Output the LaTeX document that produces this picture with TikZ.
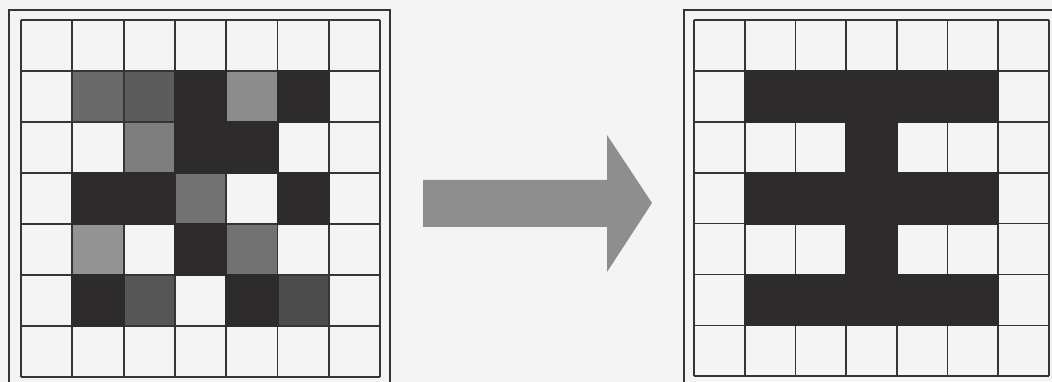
\documentclass[tikz,border=0pt]{standalone}
\begin{document}
\begin{tikzpicture}[x=1pt,y=-1pt,
  gridline/.style={draw=lineclr,line width=1.8pt},
  framelines/.style={draw=lineclr,line width=1.6pt}]
\definecolor{lineclr}{HTML}{3A3336}
\definecolor{bgclr}{HTML}{F4F4F4}
\definecolor{blk}{HTML}{2E2B2D}
\definecolor{gA}{HTML}{6A6A6A}
\definecolor{gB}{HTML}{5C5C5C}
\definecolor{gC}{HTML}{8C8C8C}
\definecolor{gD}{HTML}{7E7E7E}
\definecolor{gE}{HTML}{727272}
\definecolor{gF}{HTML}{939393}
\definecolor{gG}{HTML}{565656}
\definecolor{gH}{HTML}{4C4C4C}
\definecolor{arrowclr}{HTML}{8E8E8E}
\useasboundingbox (0,0) rectangle (1052,382);
\fill[bgclr] (0,0) rectangle (1052,382);
\clip (0,0) rectangle (1052,382);
% ---------- left grid ----------
\def\lx{21}\def\ly{20}\def\lw{51.3}\def\lh{51.0}
\foreach \c/\r/\col in {1/1/gA,2/1/gB,4/1/gC,
                        2/2/gD,
                        3/3/gE,
                        1/4/gF,4/4/gE,
                        2/5/gG,5/5/gH}
  \fill[\col] ({\lx+\c*\lw},{\ly+\r*\lh}) rectangle ({\lx+(\c+1)*\lw},{\ly+(\r+1)*\lh});
\foreach \i in {0,...,7} {
  \draw[gridline] ({\lx+\i*\lw},\ly) -- ({\lx+\i*\lw},{\ly+7*\lh});
  \draw[gridline] (\lx,{\ly+\i*\lh}) -- ({\lx+7*\lw},{\ly+\i*\lh});
}
\foreach \c/\r in {3/1,5/1,3/2,4/2,1/3,2/3,5/3,3/4,1/5,4/5}
  \fill[blk] ({\lx+\c*\lw-1},{\ly+\r*\lh-1}) rectangle ({\lx+(\c+1)*\lw+1},{\ly+(\r+1)*\lh+1});
\draw[framelines] (9,390) -- (9,10) -- (390,10) -- (390,390);
% ---------- arrow ----------
\coordinate (s1) at (423,180);
\coordinate (s2) at (607,180);
\coordinate (h1) at (607,135);
\coordinate (tip) at (652,203);
\coordinate (h2) at (607,272);
\coordinate (s3) at (607,227);
\coordinate (s4) at (423,227);
\fill[arrowclr] (s1) -- (s2) -- (h1) -- (tip) -- (h2) -- (s3) -- (s4) -- cycle;
% ---------- right grid ----------
\def\rx{694}\def\ry{20}\def\rw{50.7}\def\rh{50.9}
\foreach \i in {0,...,7} {
  \draw[gridline] ({\rx+\i*\rw},\ry) -- ({\rx+\i*\rw},{\ry+7*\rh});
  \draw[gridline] (\rx,{\ry+\i*\rh}) -- ({\rx+7*\rw},{\ry+\i*\rh});
}
\foreach \c/\r in {1/1,2/1,3/1,4/1,5/1,3/2,1/3,2/3,3/3,4/3,5/3,3/4,1/5,2/5,3/5,4/5,5/5}
  \fill[blk] ({\rx+\c*\rw-1},{\ry+\r*\rh-1}) rectangle ({\rx+(\c+1)*\rw+1},{\ry+(\r+1)*\rh+1});
\draw[framelines] (684,390) -- (684,10) -- (1060,10);
\end{tikzpicture}
\end{document}
